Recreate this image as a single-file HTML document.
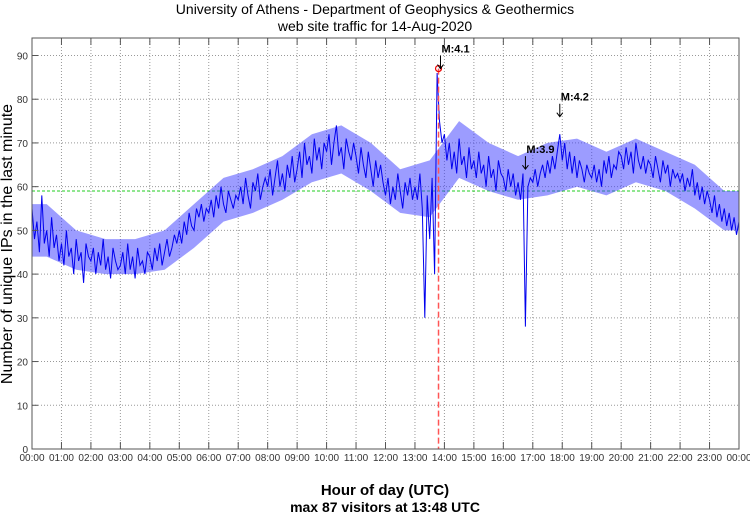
<!DOCTYPE html>
<html><head><meta charset="utf-8"><style>
body{margin:0;background:#fff;}
svg{display:block;font-family:"Liberation Sans",sans-serif;}
</style></head><body>
<svg id="chart" width="750" height="515">
<text x="375" y="14" text-anchor="middle" font-size="14" fill="#000">University of Athens - Department of Geophysics &amp; Geothermics</text>
<text x="375" y="31" text-anchor="middle" font-size="14" fill="#000">web site traffic for 14-Aug-2020</text>
<g id="grid"></g>
<g id="series"></g>
<g id="annot"></g>
<rect x="32" y="38" width="707" height="411" fill="none" stroke="#555" stroke-width="1"/>
<g id="ticks"></g>
<text transform="translate(12,244) rotate(-90)" text-anchor="middle" font-size="16" fill="#000">Number of unique IPs in the last minute</text>
<text x="385" y="495" text-anchor="middle" font-size="15" font-weight="bold" fill="#000">Hour of day (UTC)</text>
<text x="385" y="512" text-anchor="middle" font-size="14" font-weight="bold" fill="#000">max 87 visitors at 13:48 UTC</text>
</svg>
<script>
const yTicks=[0,10,20,30,40,50,60,70,80,90];
const xTickLabels=["00:00","01:00","02:00","03:00","04:00","05:00","06:00","07:00","08:00","09:00","10:00","11:00","12:00","13:00","14:00","15:00","16:00","17:00","18:00","19:00","20:00","21:00","22:00","23:00","00:00"];
const stepMinutes=5;
const visitors=[
55,48,52,45,58,47,50,44,53,46,49,43,
47,42,50,44,46,40,48,43,45,38,47,44,
43,46,40,45,42,48,41,44,39,46,43,41,
42,45,40,47,41,44,39,46,42,43,40,45,
44,41,46,43,47,42,45,48,44,46,49,47,
50,47,52,49,54,51,50,55,53,56,52,55,
54,57,53,58,55,60,56,54,59,57,55,58,
57,60,56,62,58,55,61,59,63,57,60,62,
60,64,58,62,66,60,63,59,65,62,67,61,
64,68,62,70,65,67,63,71,66,69,64,70,
68,72,65,70,74,67,69,64,71,68,66,70,
67,63,69,65,62,68,64,60,66,62,65,61,
58,62,56,60,57,63,59,55,61,58,62,57,
60,57,63,55,30,58,48,62,40,86,75,70,
72,66,70,64,68,63,71,65,67,62,69,64,
66,62,68,63,65,60,67,62,64,59,66,63,
62,59,64,60,63,58,61,57,63,28,60,62,
61,64,60,63,65,62,66,63,67,64,68,72,
66,70,64,68,63,67,62,66,64,61,65,63,
62,65,61,64,60,66,63,67,62,65,64,68,
67,64,69,65,68,63,70,66,64,67,63,66,
65,62,67,64,61,66,63,65,60,64,62,63,
61,63,59,62,60,64,58,61,57,60,56,59,
57,54,58,53,56,52,55,51,54,50,53,49,
52];
const hourlyLow=[44,41,40,40,41,46,52,54,57,61,63,59,54,53,62,59,57,58,60,58,61,59,55,50];
const hourlyHigh=[56,50,48,48,50,56,62,64,67,72,74,70,64,66,75,70,67,70,71,68,71,68,65,59];
const meanLevel=59;
const maxValue=87, maxMinute=13*60+48;
const quakeLabels=["M:4.1","M:3.9","M:4.2"];
const quakeMinutes=[13*60+52,16*60+45,17*60+55];
const quakeLevels=[87,64,76];

const X0=32,X1=739,Y0=449,YT=38,YMAX=94;
const xs=m=>X0+(X1-X0)*m/1440;
const ys=v=>Y0-(Y0-YT)*v/YMAX;
const NS="http://www.w3.org/2000/svg";
function mk(p,t,a){const e=document.createElementNS(NS,t);for(const k in a)e.setAttribute(k,a[k]);p.appendChild(e);return e;}
const grid=document.getElementById('grid'),ticks=document.getElementById('ticks');
yTicks.forEach(v=>{const y=ys(v);
 if(v>0){const g=mk(grid,'line',{x1:X0,x2:X1,y1:y,y2:y,stroke:'#999','stroke-dasharray':'1,2','stroke-width':1});
 
 const t=mk(ticks,'line',{x1:X0,x2:X0+6,y1:y,y2:y,stroke:'#555'});}
 const l=mk(ticks,'text',{x:X0-4,y:y+4,'text-anchor':'end','font-size':10,fill:'#333'});l.textContent=v;
 });
xTickLabels.forEach((s,i)=>{const x=xs(i*60);
 if(i>0&&i<24){const g=mk(grid,'line',{x1:x,x2:x,y1:YT,y2:Y0,stroke:'#999','stroke-dasharray':'1,2','stroke-width':1});
 
 const t=mk(ticks,'line',{x1:x,x2:x,y1:Y0,y2:Y0-7,stroke:'#555'});
 const t2=mk(ticks,'line',{x1:x,x2:x,y1:YT,y2:YT+7,stroke:'#555'});}
 const l=mk(ticks,'text',{x:x,y:Y0+12,'text-anchor':'middle','font-size':10,fill:'#333'});l.textContent=s;
 });
const ml=mk(grid,'line',{x1:X0,x2:X1,y1:ys(meanLevel),y2:ys(meanLevel),stroke:'#2c2','stroke-dasharray':'3,2','stroke-width':1});

const ser=document.getElementById('series');
const last=hourlyHigh.length-1;
const bandTop=[xs(0)+','+ys(hourlyHigh[0])].concat(hourlyHigh.map((v,h)=>xs(h*60+30).toFixed(1)+','+ys(v).toFixed(1)),[xs(1440)+','+ys(hourlyHigh[last])]);
const bandBottom=[xs(0)+','+ys(hourlyLow[0])].concat(hourlyLow.map((v,h)=>xs(h*60+30).toFixed(1)+','+ys(v).toFixed(1)),[xs(1440)+','+ys(hourlyLow[last])]).reverse();
const band=mk(ser,'polygon',{points:bandTop.concat(bandBottom).join(' '),fill:'#3a3aff','fill-opacity':0.5,stroke:'none'});

const pts=visitors.map((v,i)=>xs(i*stepMinutes).toFixed(1)+','+ys(v).toFixed(1)).join(' ');
const pl=mk(ser,'polyline',{points:pts,fill:'none',stroke:'#0000ee','stroke-width':1});

const an=document.getElementById('annot');
const vl=mk(an,'line',{x1:xs(maxMinute),x2:xs(maxMinute),y1:ys(maxValue),y2:Y0,stroke:'#f55','stroke-dasharray':'6,3','stroke-width':1.5});

const c=mk(an,'circle',{cx:xs(maxMinute),cy:ys(maxValue),r:3,fill:'none',stroke:'#e00','stroke-width':1.2});

quakeLabels.forEach((s,i)=>{const x=xs(quakeMinutes[i]),y=ys(quakeLevels[i]);
 const a=mk(an,'path',{d:`M${x},${y-13}L${x},${y}M${x-3},${y-4}L${x},${y}L${x+3},${y-4}`,stroke:'#000',fill:'none','stroke-width':1});
 
 const t=mk(an,'text',{x:x+1,y:y-16,'font-size':11,'font-weight':'bold',fill:'#000'});t.textContent=s;
 });
</script>
</body></html>
